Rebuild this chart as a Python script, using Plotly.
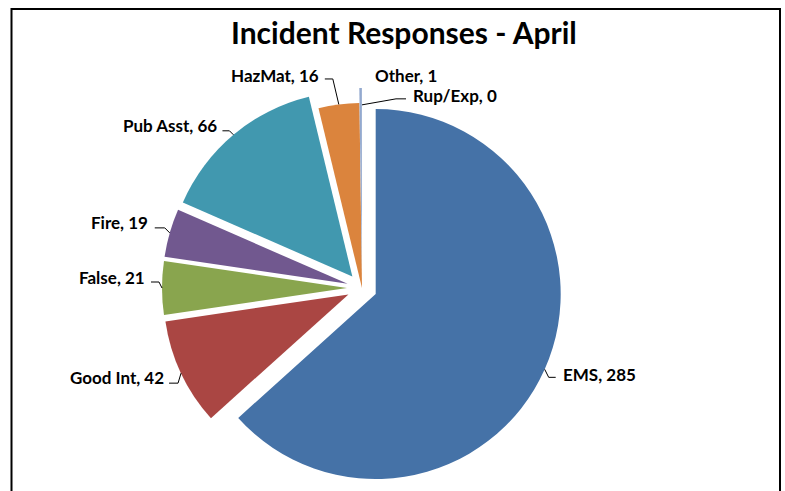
import math
import plotly.graph_objects as go

# ---- data ----
categories = ["EMS", "Good Int", "False", "Fire", "Pub Asst", "HazMat", "Other", "Rup/Exp"]
values = [285, 42, 21, 19, 66, 16, 1, 0]
title_text = "Incident Responses - April"

# ---- style ----
colors = ["#4572A7", "#AA4643", "#89A54E", "#71588F", "#4198AF", "#DB843D", "#93A9CF", "#D19392"]
pulls = [0.081, 0.081, 0.081, 0.081, 0.081, 0.0, 0.081, 0.081]

W, H = 785, 491
CX, CY = 362, 288          # pie centre (px)
R = 185                     # pie radius (px)
EXT = R * (1 + max(pulls))  # half-size of pie box

# label layout: (elbow offset, end offset, text offset, xanchor) relative to slice anchor, px
label_layout = {
    "EMS":      ((4, 8),    (11, 8),    (16, 5),    "left"),
    "Good Int": ((-3, 10),  (-12, 10),  (-15, 4.5), "right"),
    "False":    ((-3, -6),  (-11, -6),  (-15, -10.5), "right"),
    "Fire":     ((-5, -5),  (-15, -5),  (-20, -10), "right"),
    "Pub Asst": ((-4, -4),  (-11, -4),  (-14, -9),  "right"),
    "HazMat":   ((-6, -25.5), (-14, -25.5), (-18, -29), "right"),
    "Other":    (None,      None,       (12, -12.5), "left"),
    "Rup/Exp":  ((34, -6),  (44, -6),   (49, -9),   "left"),
}

def px(x):
    return x / W

def py(y):
    return 1 - y / H

LABEL_FONT = dict(family="Lato", size=17, color="#000000")

fig = go.Figure(go.Pie(
    labels=categories,
    values=values,
    sort=False,
    direction="clockwise",
    rotation=0,
    pull=pulls,
    marker=dict(colors=colors, line=dict(width=0)),
    textinfo="none",
    hoverinfo="label+value",
    showlegend=False,
    domain=dict(x=[px(CX - EXT), px(CX + EXT)], y=[py(CY + EXT), py(CY - EXT)]),
))

total = sum(values)
cum = 0.0
shapes = []
annotations = []
for name, v, p in zip(categories, values, pulls):
    a0 = cum / total * 360
    cum += v
    a1 = cum / total * 360
    mid = math.radians((a0 + a1) / 2)
    rr = R * (1 + p) if v > 0 else R * 0.99
    ax = CX + rr * math.sin(mid)
    ay = CY - rr * math.cos(mid)
    elbow, end, toff, xa = label_layout[name]
    if elbow is not None:
        path = "M {} {} L {} {} L {} {}".format(
            px(ax), py(ay),
            px(ax + elbow[0]), py(ay + elbow[1]),
            px(ax + end[0]), py(ay + end[1]))
        shapes.append(dict(type="path", path=path, xref="paper", yref="paper",
                           line=dict(color="#000000", width=1)))
    annotations.append(dict(
        x=px(ax + toff[0]), y=py(ay + toff[1]), xref="paper", yref="paper",
        text="<b>{}, {}</b>".format(name, v), showarrow=False,
        xanchor=xa, yanchor="middle", font=LABEL_FONT))

# title
annotations.append(dict(
    x=px(404), y=py(32), xref="paper", yref="paper",
    text="<b>" + title_text + "</b>", showarrow=False,
    xanchor="center", yanchor="middle",
    font=dict(family="Lato", size=30, color="#000000")))

# chart frame
shapes.append(dict(type="rect", xref="paper", yref="paper",
                   x0=px(11.5), x1=px(780), y0=-0.1, y1=py(9),
                   line=dict(color="#000000", width=2), fillcolor="rgba(0,0,0,0)"))

fig.update_layout(
    width=W, height=H,
    margin=dict(l=0, r=0, t=0, b=0),
    paper_bgcolor="white",
    plot_bgcolor="white",
    shapes=shapes,
    annotations=annotations,
)

fig.write_html("out.html",
               config={"displayModeBar": False},
               post_script="document.body.style.margin='0';document.body.style.overflow='hidden';")
